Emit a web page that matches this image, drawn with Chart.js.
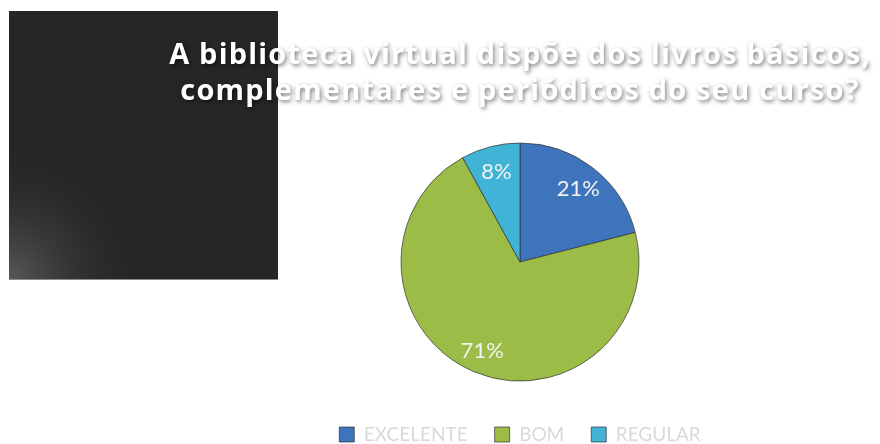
<!DOCTYPE html>
<html>
<head>
<meta charset="utf-8">
<script src="https://cdn.jsdelivr.net/npm/chart.js@4.4.0/dist/chart.umd.min.js"></script>
<style>
  html, body { margin: 0; padding: 0; background: #fff; }
  canvas { display: block; }
</style>
</head>
<body>
<canvas id="pieChart" width="880" height="444"></canvas>
<script>
const categories = ['EXCELENTE', 'BOM', 'REGULAR'];
const percentValues = [21, 71, 8];
const sliceColors = ['#3d74bc', '#9bbd48', '#41b3d6'];
const titleLines = ['A biblioteca virtual dispõe dos livros básicos,', 'complementares e periódicos do seu curso?'];

// dark panel behind the left part of the title
const backdrop = {
  id: 'backdrop',
  beforeDraw(chart) {
    const ctx = chart.ctx;
    ctx.save();
    ctx.fillStyle = '#ffffff';
    ctx.fillRect(0, 0, chart.width, chart.height);
    ctx.fillStyle = '#262626';
    ctx.fillRect(9, 11, 269, 269);
    const glow = ctx.createRadialGradient(9, 280, 0, 9, 280, 135);
    glow.addColorStop(0, '#5a5a5a');
    glow.addColorStop(1, 'rgba(38,38,38,0)');
    ctx.fillStyle = glow;
    ctx.fillRect(9, 11, 269, 269);
    ctx.fillStyle = '#8a8a8a';
    ctx.fillRect(9, 279, 269, 1);
    ctx.restore();
  }
};

// white title with soft grey shadow
const shadowTitle = {
  id: 'shadowTitle',
  afterDraw(chart) {
    const ctx = chart.ctx;
    const cx = (chart.chartArea.left + chart.chartArea.right) / 2;
    ctx.save();
    ctx.font = 'bold 29px "Open Sans"';
    ctx.letterSpacing = '1.2px';
    ctx.textAlign = 'center';
    ctx.textBaseline = 'alphabetic';
    ctx.fillStyle = '#ffffff';
    ctx.shadowColor = 'rgba(0,0,0,0.5)';
    ctx.shadowBlur = 4;
    ctx.shadowOffsetX = 1.5;
    ctx.shadowOffsetY = 1.5;
    titleLines.forEach((line, i) => ctx.fillText(line, cx, 64 + i * 36));
    ctx.restore();
  }
};

// percentage labels inside the slices
const sliceLabels = {
  id: 'sliceLabels',
  afterDatasetsDraw(chart) {
    const ctx = chart.ctx;
    const meta = chart.getDatasetMeta(0);
    ctx.save();
    ctx.font = '22px Lato';
    ctx.fillStyle = '#f2f2f2';
    ctx.textAlign = 'center';
    ctx.textBaseline = 'middle';
    meta.data.forEach((arc, i) => {
      const mid = (arc.startAngle + arc.endAngle) / 2;
      const r = arc.outerRadius * 0.8;
      ctx.fillText(percentValues[i] + '%', arc.x + Math.cos(mid) * r, arc.y + Math.sin(mid) * r + 2);
    });
    ctx.restore();
  }
};

new Chart(document.getElementById('pieChart').getContext('2d'), {
  type: 'pie',
  data: {
    labels: categories,
    datasets: [{
      data: percentValues,
      backgroundColor: sliceColors,
      borderColor: 'rgba(50,50,50,0.7)',
      borderWidth: 1,
      radius: 119
    }]
  },
  options: {
    responsive: false,
    animation: false,
    layout: { padding: { top: 126, left: 160, right: 0, bottom: -10 } },
    plugins: {
      title: { display: false },
      tooltip: { enabled: false },
      legend: {
        position: 'bottom',
        labels: {
          color: '#d9d9d9',
          font: { family: 'Lato', size: 19 },
          boxWidth: 15,
          boxHeight: 15,
          padding: 27
        }
      }
    }
  },
  plugins: [backdrop, shadowTitle, sliceLabels]
});
</script>
</body>
</html>
